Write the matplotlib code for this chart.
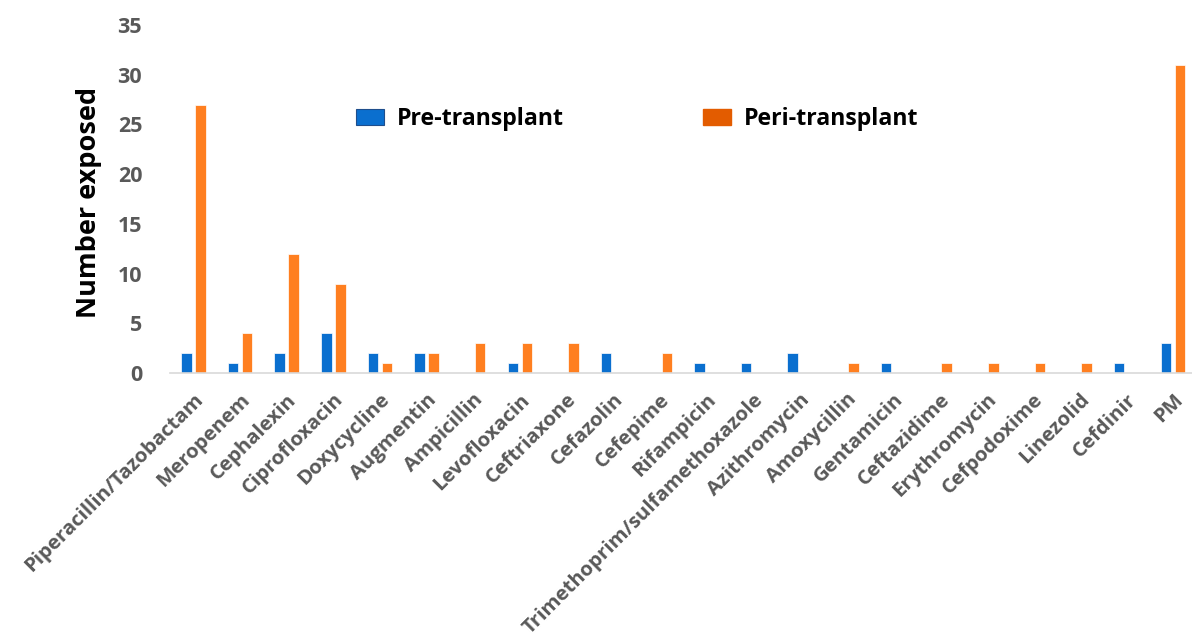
import matplotlib
matplotlib.use("Agg")
import matplotlib.pyplot as plt
from matplotlib.patches import Patch
import numpy as np

drugs = ["Piperacillin/Tazobactam", "Meropenem", "Cephalexin", "Ciprofloxacin",
         "Doxycycline", "Augmentin", "Ampicillin", "Levofloxacin", "Ceftriaxone",
         "Cefazolin", "Cefepime", "Rifampicin", "Trimethoprim/sulfamethoxazole",
         "Azithromycin", "Amoxycillin", "Gentamicin", "Ceftazidime", "Erythromycin",
         "Cefpodoxime", "Linezolid", "Cefdinir", "PM"]
pre_transplant = [2, 1, 2, 4, 2, 2, 0, 1, 0, 2, 0, 1, 1, 2, 0, 1, 0, 0, 0, 0, 1, 3]
peri_transplant = [27, 4, 12, 9, 1, 2, 3, 3, 3, 0, 2, 0, 0, 0, 1, 0, 1, 1, 1, 1, 0, 31]
y_ticks = [0, 5, 10, 15, 20, 25, 30, 35]

plt.rcParams['font.family'] = ['Open Sans', 'DejaVu Sans']

W, H = 1192, 642
fig = plt.figure(figsize=(W / 100, H / 100), dpi=100)
ax = fig.add_axes([170 / W, 1 - 373 / H, 1022 / W, (373 - 25) / H])

x = np.arange(len(drugs))
ax.bar(x - 0.15, pre_transplant, width=0.225, color='#0a6fcf', edgecolor='white', linewidth=0.5)
ax.bar(x + 0.15, peri_transplant, width=0.225, color='#ff7f20', edgecolor='white', linewidth=0.5)

ax.set_xlim(-0.5, 21.41)
ax.set_ylim(0, 35)
ax.set_yticks(y_ticks)
ax.set_yticklabels([str(t) for t in y_ticks], fontsize=15.5, fontweight='bold', color='#595959')
ax.set_xticks(x)
ax.set_xticklabels(drugs, rotation=45, ha='right', rotation_mode='anchor',
                   fontsize=14.7, fontweight='bold', color='#595959')
ax.tick_params(axis='both', length=0)
ax.tick_params(axis='y', pad=20)
ax.tick_params(axis='x', pad=12)
for s in ['top', 'right', 'left']:
    ax.spines[s].set_visible(False)
ax.spines['bottom'].set_color('#d9d9d9')
ax.spines['bottom'].set_linewidth(1.2)

ax.set_ylabel("Number exposed", fontsize=19.5, fontweight='bold', color='black')
ax.yaxis.set_label_coords(-0.067, 0.49)

handles = [Patch(facecolor='#0a6fcf', edgecolor='#1f4e8c', linewidth=0.8),
           Patch(facecolor='#e35c00', edgecolor='#e35c00')]
fig.legend(handles, ["Pre-transplant", "Peri-transplant"], ncol=2, frameon=False,
           loc='center left', bbox_to_anchor=(356 / W, 1 - 119 / H),
           bbox_transform=fig.transFigure, borderpad=0, borderaxespad=0,
           prop={'size': 16.7, 'weight': 'bold'}, columnspacing=6.0,
           handlelength=1.2, handleheight=0.73, handletextpad=0.56)

fig.savefig("out.png", dpi=100)
